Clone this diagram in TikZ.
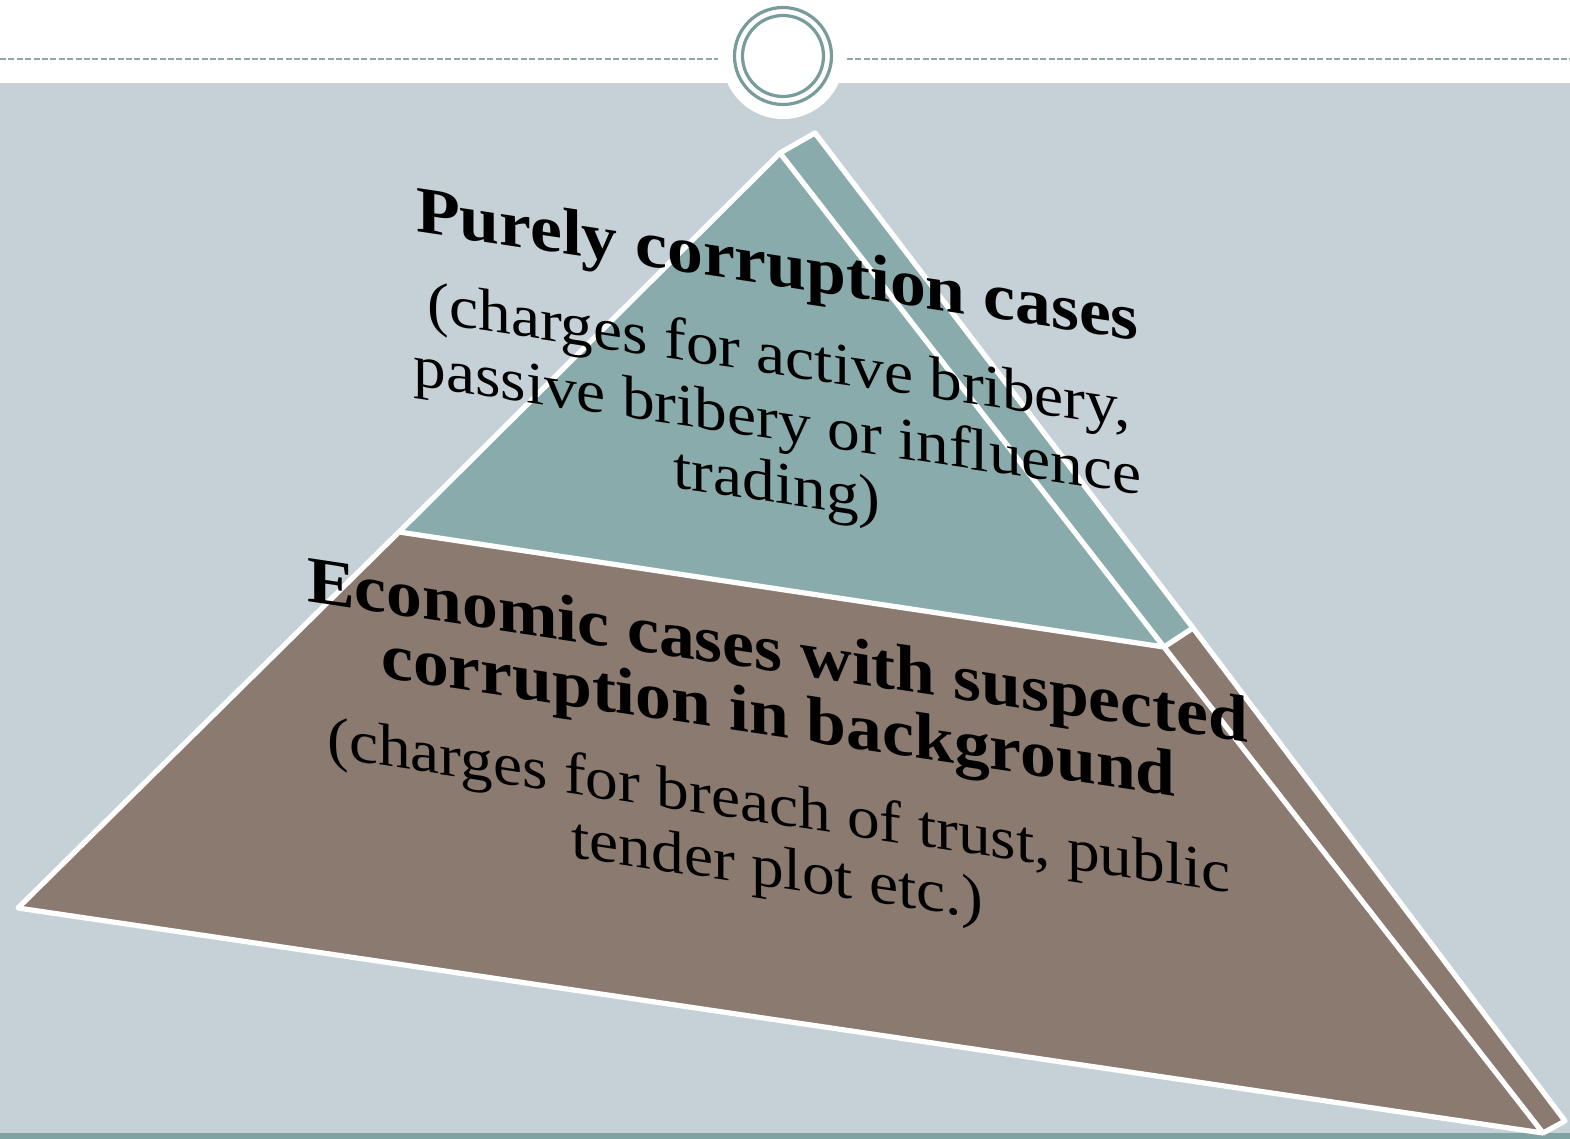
\documentclass[tikz,border=0pt]{standalone}
\usepackage{fontspec}
\setmainfont{Liberation Serif}
\definecolor{slate}{RGB}{197,209,215}
\definecolor{tealface}{RGB}{138,171,171}
\definecolor{brownface}{RGB}{139,122,111}
\definecolor{ringcol}{RGB}{120,156,155}
\definecolor{dashcol}{RGB}{142,168,168}
\definecolor{stripecol}{RGB}{127,163,163}
\tikzset{
  rule/.style={dashcol, line width=1pt, dash pattern=on 3pt off 1.2pt},
  ringline/.style={ringcol, line width=1.6pt},
  outline/.style={white, line width=2.6pt, line join=round},
  headline/.style={yslant=-0.15, xscale=1.085, anchor=base, inner sep=0pt,
    font=\fontsize{33}{33}\selectfont\bfseries},
  bodyline/.style={yslant=-0.15, xscale=1.09, anchor=base, inner sep=0pt,
    font=\fontsize{30}{30}\selectfont},
}
\begin{document}
\begin{tikzpicture}[x=0.5pt,y=-0.5pt]
\useasboundingbox (0,0) rectangle (1570,1139);
% page background, content band and footer stripe
\fill[white] (0,0) rectangle (1570,1139);
\fill[slate] (0,83) rectangle (1570,1139);
\fill[stripecol] (0,1133) rectangle (1570,1139);
% header rule with the double ring emblem
\draw[rule] (0,59) -- (718,59);
\draw[rule] (847,59) -- (1570,59);
\fill[white] (783,58) circle (61);
\draw[ringline] (783,56) circle (48.5);
\draw[ringline] (783,56) circle (40.5);
% pyramid corners
\coordinate (apex) at (780,153);
\coordinate (back) at (815,133);
\coordinate (ml) at (399,532);
\coordinate (mr) at (1164,647);
\coordinate (ms) at (1193,628);
\coordinate (bl) at (18,908);
\coordinate (br) at (1543,1133);
\coordinate (bs) at (1565,1121);
% upper tier
\fill[tealface] (apex) -- (ml) -- (mr) -- cycle;
\fill[tealface] (apex) -- (back) -- (ms) -- (mr) -- cycle;
% lower tier
\fill[brownface] (ml) -- (mr) -- (br) -- (bl) -- cycle;
\fill[brownface] (mr) -- (ms) -- (bs) -- (br) -- cycle;
% white edges
\draw[outline] (apex) -- (ml) -- (mr) -- cycle;
\draw[outline] (apex) -- (back) -- (ms) -- (mr);
\draw[outline] (ml) -- (bl) -- (br) -- (mr);
\draw[outline] (ms) -- (bs) -- (br);
% upper tier text
\node[headline] (t1) at (777.5,286) {Purely corruption cases};
\node[bodyline] (t2) at (779,375) {(charges for active bribery,};
\node[bodyline] (t3) at (777.5,440) {passive bribery or influence};
\node[bodyline] (t4) at (777,503) {trading)};
% lower tier text
\node[headline] (b1) at (777.5,672) {Economic cases with suspected};
\node[headline] (b2) at (778.5,737) {corruption in background};
\node[bodyline] (b3) at (779,825) {(charges for breach of trust, public};
\node[bodyline] (b4) at (777.5,888) {tender plot etc.)};
\end{tikzpicture}
\end{document}
